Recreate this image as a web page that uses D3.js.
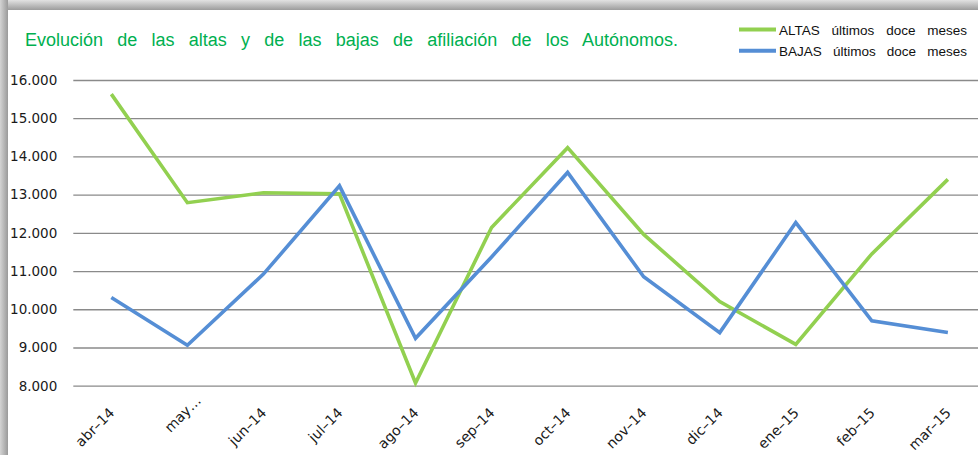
<!DOCTYPE html>
<html>
<head>
    <meta charset="utf-8" />
    <title>Altas y bajas de afiliación de los Autónomos</title>
</head>
<style>
    body {
        margin: 0;
        background-color: #ffffff;
    }

    .grid line {
        stroke: #8a8a8a;
        stroke-width: 1.3px;
    }

    .grid text {
        font-family: "DejaVu Sans", Verdana, sans-serif;
        font-size: 13.5px;
        fill: #1a1a1a;
    }

    .xaxis text {
        font-family: "DejaVu Sans", Verdana, sans-serif;
        font-size: 14px;
        fill: #1a1a1a;
    }

    .serie {
        fill: none;
        stroke-width: 3.6px;
        stroke-linejoin: miter;
    }
</style>
<body>
    <svg id="chart" width="978" height="455"></svg>
    <script src="https://d3js.org/d3.v7.min.js"></script>
    <script>
        // datos
        var meses = ["abr–14", "may…", "jun–14", "jul–14", "ago–14", "sep–14",
            "oct–14", "nov–14", "dic–14", "ene–15", "feb–15", "mar–15"];
        var altas = [15630, 12790, 13050, 13020, 8070, 12140, 14230, 11960, 10200, 9080, 11450, 13400];
        var bajas = [10310, 9060, 10920, 13230, 9240, 11370, 13580, 10850, 9390, 12270, 9700, 9390];
        var yTicks = [8000, 9000, 10000, 11000, 12000, 13000, 14000, 15000, 16000];
        var series = ["ALTAS últimos doce meses", "BAJAS últimos doce meses"];
        var titulo = "Evolución de las altas y de las bajas de afiliación de los Autónomos.";

        var colores = ["#92d050", "#558ed5"];

        var svg = d3.select("#chart");

        // marco con sombra (izquierda y arriba)
        var defs = svg.append("defs");
        var gTop = defs.append("linearGradient").attr("id", "sTop")
            .attr("x1", 0).attr("y1", 0).attr("x2", 0).attr("y2", 1);
        gTop.append("stop").attr("offset", "0%").attr("stop-color", "#e2e2e2");
        gTop.append("stop").attr("offset", "100%").attr("stop-color", "#9c9c9c");
        var gLeft = defs.append("linearGradient").attr("id", "sLeft")
            .attr("x1", 0).attr("y1", 0).attr("x2", 1).attr("y2", 0);
        gLeft.append("stop").attr("offset", "0%").attr("stop-color", "#d4d4d4");
        gLeft.append("stop").attr("offset", "100%").attr("stop-color", "#9a9a9a");

        svg.append("rect").attr("x", 0).attr("y", 0).attr("width", 978).attr("height", 10)
            .attr("fill", "url(#sTop)");
        svg.append("rect").attr("x", 0).attr("y", 0).attr("width", 8).attr("height", 455)
            .attr("fill", "url(#sLeft)");

        var margin = { top: 80, left: 73.3 };
        var width = 12 * 76.05,
            height = 305.7;

        var x = d3.scaleBand().domain(meses).range([0, width]).padding(0);
        var y = d3.scaleLinear().domain([8000, 16000]).range([height, 0]);

        var fmt = d3.formatLocale({ decimal: ",", thousands: ".", grouping: [3], currency: ["", "€"] }).format(",d");

        var g = svg.append("g")
            .attr("transform", "translate(" + margin.left + "," + margin.top + ")");

        // lineas de rejilla y etiquetas del eje y
        g.append("g")
            .attr("class", "grid")
            .call(d3.axisLeft(y).tickValues(yTicks).tickSize(-width).tickPadding(16).tickFormat(fmt))
            .call(function(a) { a.select(".domain").remove(); });

        // eje x con etiquetas giradas
        g.append("g")
            .attr("class", "xaxis")
            .attr("transform", "translate(0," + height + ")")
            .call(d3.axisBottom(x).tickSize(0))
            .call(function(a) { a.select(".domain").remove(); })
            .selectAll("text")
            .attr("x", 0)
            .attr("y", 0)
            .attr("dy", 0)
            .style("text-anchor", "end")
            .attr("transform", function(d) {
                var s = d.slice(-1) === "…" ? 15 : 0;
                return "translate(" + (4 + s * 0.7) + "," + (28 - s * 0.8) + ") rotate(-45)";
            });

        var linea = d3.line()
            .x(function(d, i) { return x(meses[i]) + x.bandwidth() / 2; })
            .y(function(d) { return y(d); });

        [altas, bajas].forEach(function(datos, i) {
            g.append("path")
                .datum(datos)
                .attr("class", "serie")
                .attr("stroke", colores[i])
                .attr("d", linea);
        });

        // titulo
        var t = svg.append("text")
            .attr("x", 25)
            .attr("y", 45.7)
            .attr("font-family", "'Liberation Sans', Arial, sans-serif")
            .attr("font-size", "18px")
            .attr("fill", "#00b050")
            .text(titulo);
        var huecos = titulo.split(" ").length - 1;
        t.attr("word-spacing", (653 - t.node().getComputedTextLength()) / huecos + "px");

        // leyenda
        var leyenda = svg.append("g").attr("class", "legend");
        series.forEach(function(s, i) {
            var yy = 29.5 + i * 21.3;
            leyenda.append("line")
                .attr("x1", 739).attr("x2", 776)
                .attr("y1", yy).attr("y2", yy)
                .attr("stroke", colores[i])
                .attr("stroke-width", 4);
            var lt = leyenda.append("text")
                .attr("x", 779)
                .attr("y", yy + 5.5)
                .attr("font-family", "'Liberation Sans', Arial, sans-serif")
                .attr("font-size", "13.5px")
                .attr("fill", "#111")
                .text(s);
            var n = s.split(" ").length - 1;
            lt.attr("word-spacing", (188 - lt.node().getComputedTextLength()) / n + "px");
        });
    </script>
</body>
</html>
